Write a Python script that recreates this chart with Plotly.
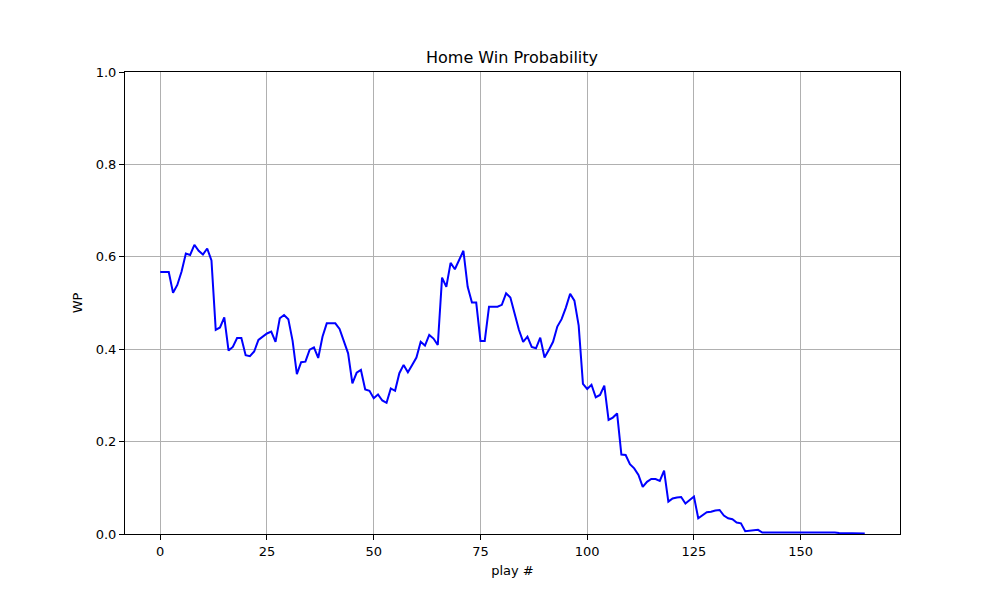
import plotly.graph_objects as go

# win probability per play
wp = [0.567, 0.567, 0.567, 0.522, 0.539, 0.568, 0.607, 0.604, 0.626, 0.613,
      0.605, 0.618, 0.592, 0.442, 0.447, 0.469, 0.397, 0.405, 0.424, 0.424,
      0.387, 0.385, 0.395, 0.420, 0.427, 0.434, 0.438, 0.416, 0.467, 0.474,
      0.465, 0.418, 0.346, 0.372, 0.373, 0.399, 0.404, 0.381, 0.427, 0.456,
      0.456, 0.456, 0.444, 0.416, 0.391, 0.326, 0.349, 0.355, 0.313, 0.310,
      0.294, 0.302, 0.289, 0.284, 0.315, 0.310, 0.348, 0.366, 0.350, 0.366,
      0.382, 0.416, 0.408, 0.431, 0.423, 0.409, 0.555, 0.535, 0.587, 0.573,
      0.592, 0.613, 0.535, 0.501, 0.501, 0.418, 0.418, 0.492, 0.492, 0.492,
      0.496, 0.521, 0.512, 0.478, 0.442, 0.416, 0.427, 0.405, 0.402, 0.425,
      0.382, 0.398, 0.416, 0.449, 0.465, 0.490, 0.520, 0.505, 0.451, 0.325,
      0.314, 0.323, 0.296, 0.301, 0.321, 0.247, 0.252, 0.261, 0.172, 0.171,
      0.151, 0.142, 0.128, 0.102, 0.113, 0.119, 0.119, 0.115, 0.137, 0.070,
      0.077, 0.079, 0.080, 0.066, 0.074, 0.081, 0.034, 0.041, 0.047, 0.048,
      0.051, 0.052, 0.040, 0.034, 0.032, 0.025, 0.023, 0.006, 0.007, 0.007,
      0.009, 0.003, 0.003, 0.003, 0.003, 0.003, 0.003, 0.003, 0.003, 0.003,
      0.003, 0.004, 0.004, 0.004, 0.004, 0.004, 0.003, 0.003, 0.003, 0.002,
      0.002, 0.002, 0.002, 0.002, 0.001, 0.001]
plays = list(range(len(wp)))

x_ticks = [0, 25, 50, 75, 100, 125, 150]
y_ticks = [0.0, 0.2, 0.4, 0.6, 0.8, 1.0]

fig = go.Figure()
fig.add_trace(go.Scatter(x=plays, y=wp, mode='lines',
                         line=dict(color='blue', width=2),
                         showlegend=False))

pad = (len(wp) - 1) * 0.05
axis_style = dict(showline=True, mirror=True, linecolor='black', linewidth=1,
                  showgrid=True, gridcolor='#b0b0b0', gridwidth=1,
                  ticks='outside', ticklen=5, tickcolor='black',
                  zeroline=False, automargin=False,
                  tickfont=dict(size=13, color='black'))

# page body has an 8px margin, so margins are shifted to compensate
fig.update_layout(
    width=1000, height=600,
    margin=dict(l=117, r=108, t=64, b=74),
    paper_bgcolor='white', plot_bgcolor='white',
    font=dict(family='DejaVu Sans', color='black'),
    title=dict(text='Home Win Probability', x=0.504, xanchor='center',
               y=0.917, yanchor='middle', font=dict(size=16)),
    xaxis=dict(range=[-pad, len(wp) - 1 + pad], tickvals=x_ticks,
               title=dict(text='play #', font=dict(size=13), standoff=8),
               **axis_style),
    yaxis=dict(range=[0, 1], tickvals=y_ticks, tickformat='.1f',
               title=dict(text='WP', font=dict(size=13), standoff=10),
               **axis_style),
)

fig.write_html("out.html")
